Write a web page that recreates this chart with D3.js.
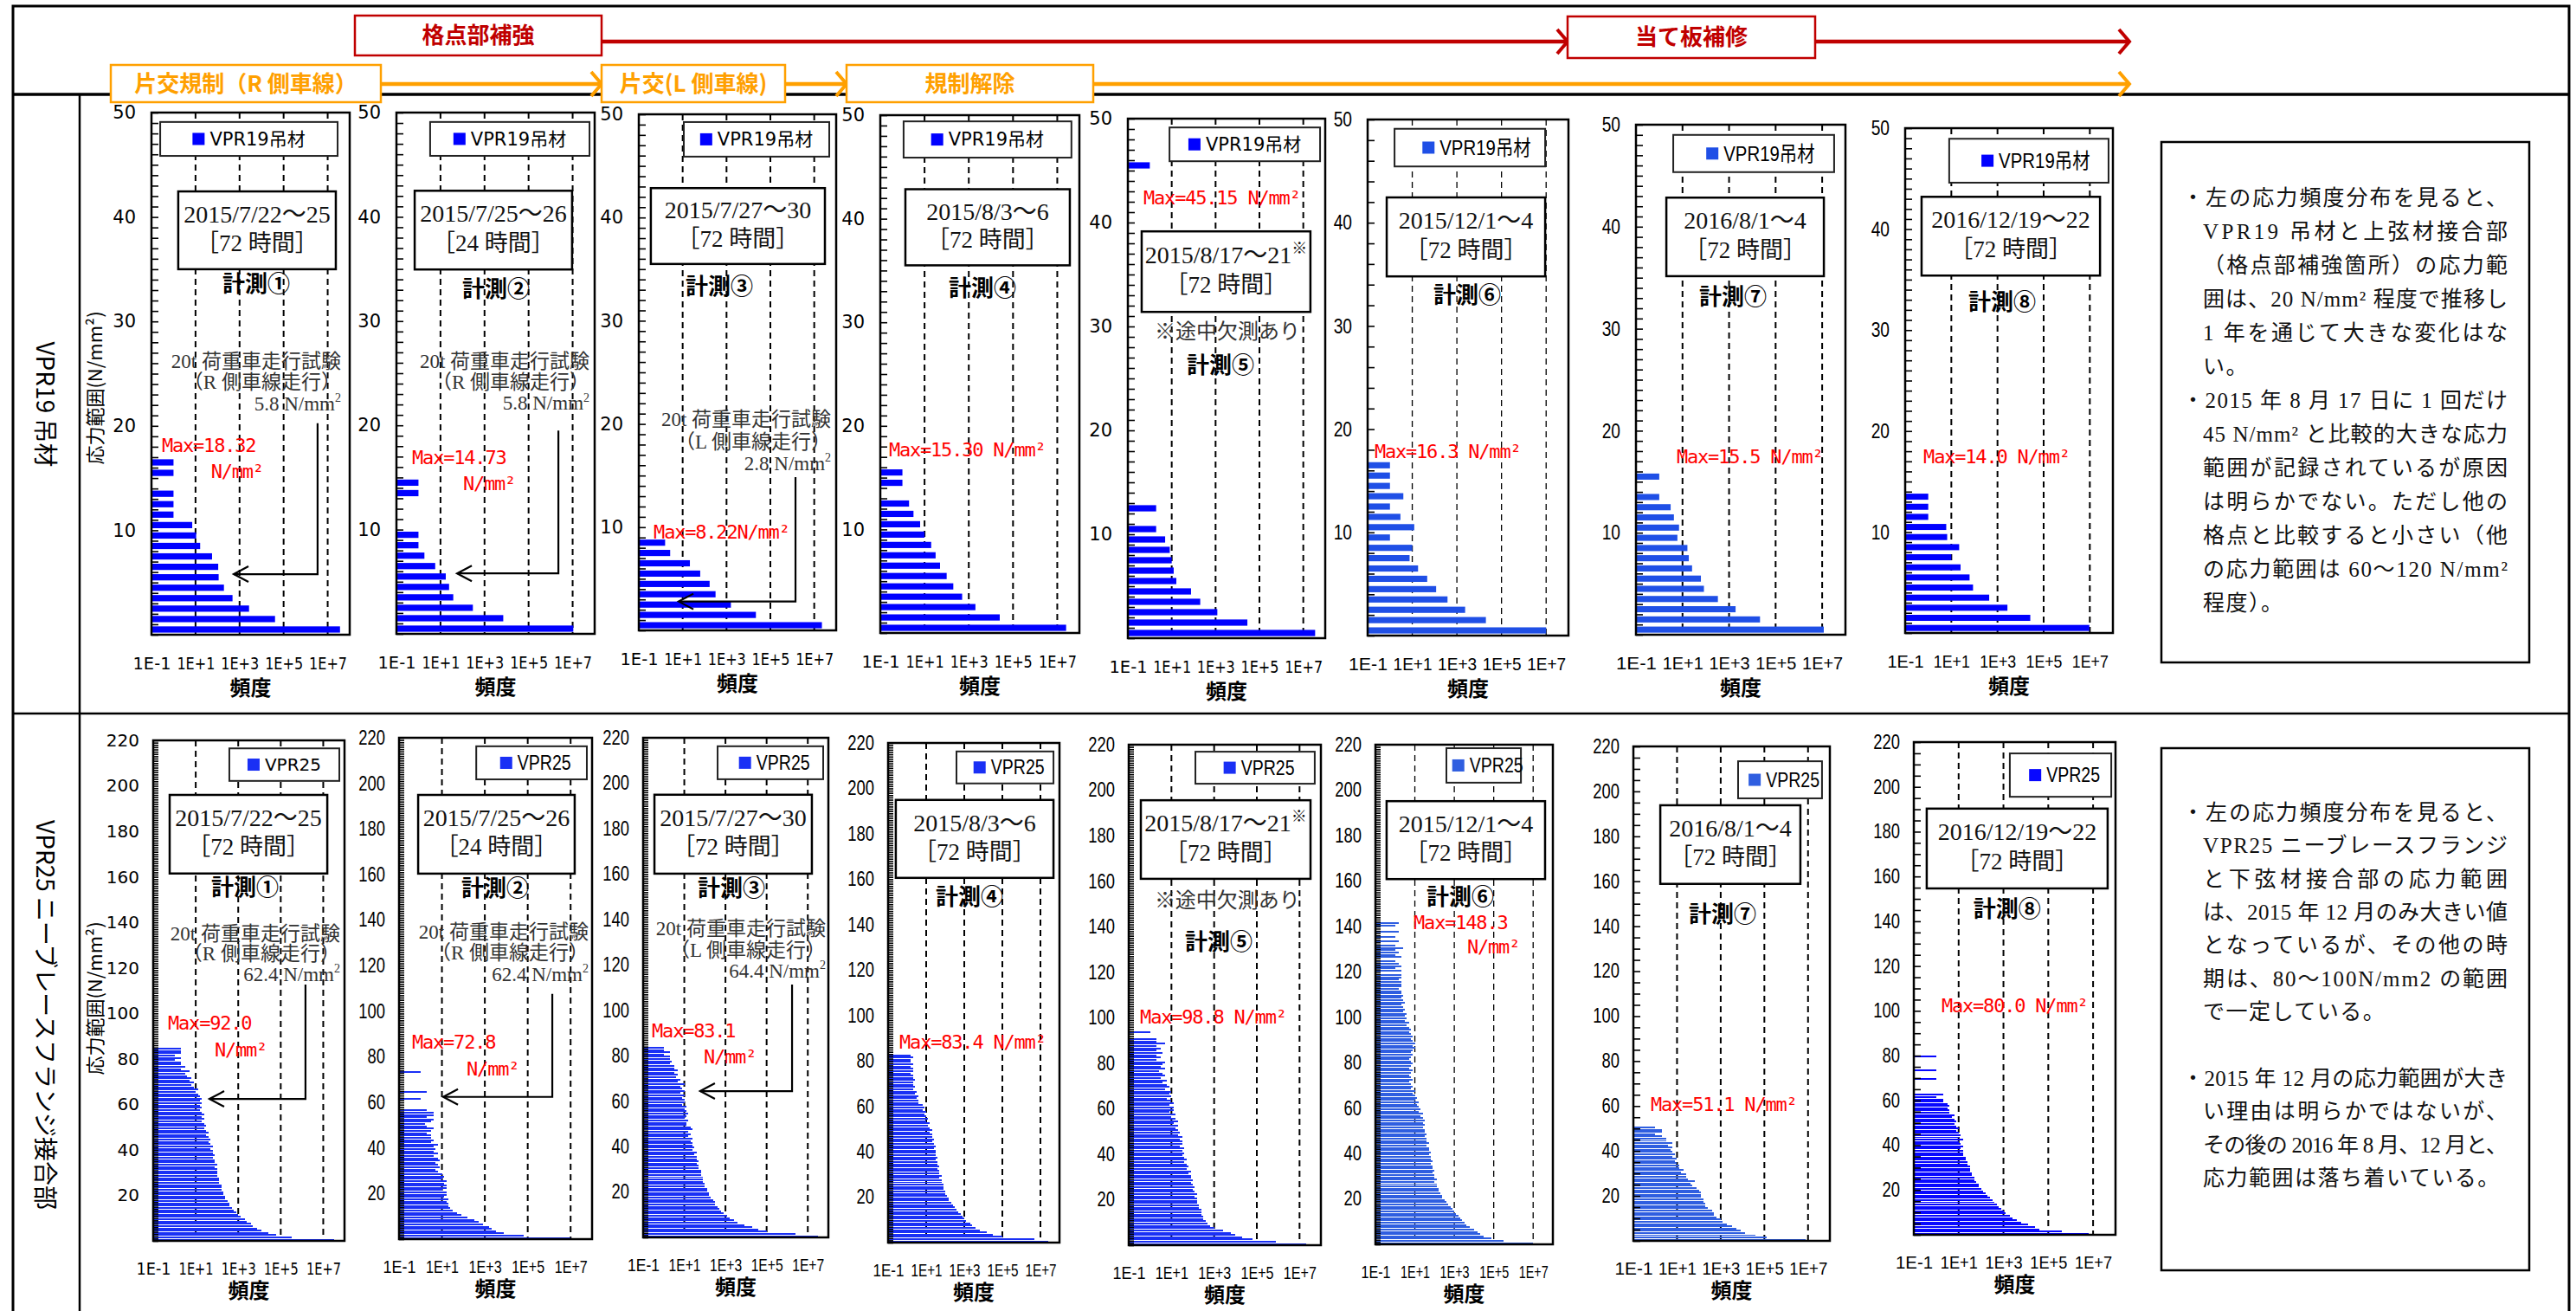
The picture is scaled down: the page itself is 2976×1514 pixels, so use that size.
<!DOCTYPE html>
<html lang="ja">
<head>
<meta charset="UTF-8"/>
<title>VPR19 / VPR25 応力頻度分布</title>
<script src="https://d3js.org/d3.v7.min.js"></script>
<style>
  body { margin: 0; background: #fff; }
</style>
</head>
<body>
<script>
// ---- data ----------------------------------------------------------
var xTickValues = [1e-1, 1e1, 1e3, 1e5, 1e7];
var xTickLabels = ["1E-1", "1E+1", "1E+3", "1E+5", "1E+7"];
var yTicksTop = [10, 20, 30, 40, 50];
var yTicksBottom = [20, 40, 60, 80, 100, 120, 140, 160, 180, 200, 220];

var periods = ["2015/7/22～25", "2015/7/25～26", "2015/7/27～30", "2015/8/3～6",
               "2015/8/17～21", "2015/12/1～4", "2016/8/1～4", "2016/12/19～22"];
var hours = ["72", "24", "72", "72", "72", "72", "72", "72"];
var measNo = ["①", "②", "③", "④", "⑤", "⑥", "⑦", "⑧"];
var maxTop = ["18.32", "14.73", "8.22", "15.30", "45.15", "16.3", "15.5", "14.0"];
var maxBottom = ["92.0", "72.8", "83.1", "83.4", "98.8", "148.3", "51.1", "80.0"];
var truckTop = ["5.8", "5.8", "2.8"];
var truckBottom = ["62.4", "62.4", "64.4"];
var truckLane = ["R", "R", "L"];

// log10(頻度) per 1 N/mm2 bin, from 0 upward (null = no count)
var vpr19_1 = [7.56, 4.61, 3.43, 2.68, 2.29, 2.05, 2.03, 1.75, 1.21, 1.03, 0.85, 0, 0, 0, null, 0, 0];
var vpr19_2 = [7.03, 3.85, 2.47, 1.58, 1.39, 1.24, 0.76, 0.27, 0, 0, null, null, null, 0, 0];
var vpr19_3 = [7.35, 4.34, 3.2, 2.5, 2.23, 1.8, 1.33, 0.43, 0.2];
var vpr19_4 = [7.4, 4.4, 3.3, 2.7, 2.3, 2.0, 1.7, 1.5, 1.3, 1.0, 0.8, 0.5, 0.3, null, 0, 0];
var vpr19_5 = [7.54, 4.45, 3.08, 2.30, 1.88, 1.21, 1.09, 1.0, 0.91, 0.70, 0.29, null, 0.29,
  null, null, null, null, null, null, null, null, null, null, null, null, null, null, null, null,
  null, null, null, null, null, null, null, null, null, null, null, null, null, null, null, null, 0];
var vpr19_6 = [7.0, 4.3, 3.37, 2.58, 2.07, 1.67, 1.26, 0.88, 1.0, 0, 1.09, 0.47, 0, 0.6, 0, 0, 0];
var vpr19_7 = [7.07, 4.33, 3.28, 2.52, 1.92, 1.79, 1.41, 1.27, 1.21, 0.78, 0.85, 0.63, 0.49, 0, null, 0];
var vpr19_8 = [6.98, 4.42, 3.43, 2.64, 1.94, 1.79, 1.4, 1.0, 1.34, 0.82, 0.78, 0, 0, 0];

var vpr25_1 = [7.5, 5.5, 4.8, 4.4, 4.1, 3.9, 3.7, 3.6, 3.4, 3.3, 3.1, 3.0, 2.9, 2.8, 2.7, 2.6, 2.6, 2.5,
  2.4, 2.4, 2.3, 2.3, 2.2, 2.2, 2.2, 2.1, 2.1, 2.1, 2.0, 2.0, 2.0, 2.0, 1.9, 2.0, 1.9, 1.9, 1.8, 1.9,
  1.8, 1.8, 1.7, 1.8, 1.7, 1.6, 1.7, 1.6, 1.5, 1.6, 1.5, 1.4, 1.5, 1.4, 1.3, 1.4, 1.3, 1.4, 1.3, 1.2,
  1.3, 1.2, 1.3, 1.2, 1.3, 1.2, 1.1, 1.0, 1.1, 0.9, 0.8, 0.9, 0.7, 0.8, 0.6, 0.5, 0.7, 0.3, 0.5, 0.3,
  0.3, 0.0, 0.3, 0.0, 0.3, 0.3, 0.3];
var vpr25_2 = [7.0, 4.8, 3.9, 3.5, 3.3, 3.2, 2.9, 2.7, 2.5, 2.2, 1.9, 1.7, 1.5, 1.4, 1.3, 1.3, 1.2, 1.3,
  1.1, 1.2, 1.2, 1.0, 1.2, 1.2, 1.1, 1.2, 1.0, 1.1, 1.0, 0.8, 0.7, 0.9, 0.8, 0.7, 0.9, 0.8, 0.6, 0.8,
  0.6, 0.7, 0.6, 0.8, 0.5, 0.6, 0.5, 0.5, 0.3, 0.5, 0.6, 0.3, 0.2, 0.5, 0.6, 0.3, 0.6, 0.6, 0.3, null,
  null, null, null, 0.0, null, null, 0.3, null, null, null, null, null, null, null, null, 0.0];
var vpr25_3 = [7.5, 6.4, 5.0, 4.6, 4.3, 3.9, 3.6, 3.4, 3.2, 3.1, 2.9, 2.8, 2.7, 2.6, 2.5, 2.5, 2.4, 2.3,
  2.2, 2.2, 2.1, 2.1, 2.0, 2.0, 1.9, 1.9, 1.9, 1.8, 1.8, 1.8, 1.7, 1.7, 1.6, 1.7, 1.6, 1.6, 1.5, 1.6,
  1.4, 1.5, 1.4, 1.4, 1.3, 1.4, 1.2, 1.3, 1.2, 1.4, 1.3, 1.1, 1.1, 1.2, 1.0, 1.1, 1.2, 1.1, 1.0, 1.1,
  0.9, 1.0, 1.0, 0.9, 1.0, 0.8, 1.0, 0.9, 0.8, 1.0, 0.7, 0.8, 0.6, 0.7, 0.5, 0.7, 0.5, 0.5, 0.3, 0.4,
  0.3, 0.3, 0.0, 0.3, 0.0, 0.0];
var vpr25_4 = [7.4, 6.7, 5.0, 4.5, 4.2, 3.8, 3.6, 3.4, 3.3, 3.1, 3.0, 2.9, 2.8, 2.7, 2.6, 2.5, 2.4, 2.3,
  2.2, 2.2, 2.1, 2.0, 2.0, 1.9, 1.9, 1.9, 1.8, 1.8, 1.7, 1.8, 1.7, 1.7, 1.6, 1.7, 1.6, 1.6, 1.5, 1.6,
  1.5, 1.5, 1.5, 1.4, 1.5, 1.4, 1.3, 1.4, 1.3, 1.3, 1.2, 1.3, 1.2, 1.1, 1.2, 1.0, 1.1, 1.0, 0.9, 1.0,
  0.8, 0.9, 0.8, 0.6, 0.6, 0.5, 0.6, 0.4, 0.5, 0.3, 0.4, 0.3, 0.3, 0.4, 0.3, 0.3, 0.2, 0.3, 0.3, 0.2,
  0.3, 0.2, 0.2, 0.3, 0.2];
var vpr25_5 = [7.3, 5.9, 4.8, 4.3, 4.0, 3.8, 3.4, 3.0, 2.8, 2.7, 2.6, 2.5, 2.5, 2.4, 2.4, 2.4, 2.3, 2.3,
  2.2, 2.2, 2.2, 2.1, 2.2, 2.1, 2.0, 2.1, 2.0, 1.9, 2.0, 1.9, 1.9, 1.8, 1.9, 1.7, 1.8, 1.7, 1.6, 1.7,
  1.6, 1.5, 1.6, 1.5, 1.6, 1.4, 1.5, 1.5, 1.4, 1.5, 1.3, 1.4, 1.3, 1.2, 1.3, 1.1, 1.3, 1.2, 1.0, 1.2,
  0.9, 1.1, 1.1, 0.9, 1.1, 1.0, 0.8, 1.0, 0.9, 1.0, 0.7, 0.9, 0.8, 0.6, 0.8, 0.5, 0.7, 0.6, 0.4, 0.7,
  0.5, 0.6, 0.7, 0.3, 0.5, 0.3, 0.6, 0.3, 0.5, 0.3, 0.7, 0.3, 0.3, null, null, 0.0];
var vpr25_6 = [7.0, 5.5, 4.9, 4.5, 4.3, 4.2, 4.0, 3.8, 3.6, 3.5, 3.4, 3.3, 3.2, 3.1, 3.0, 2.9, 2.8, 2.7,
  2.6, 2.5, 2.4, 2.4, 2.3, 2.2, 2.2, 2.1, 2.1, 2.0, 2.1, 2.0, 2.0, 1.9, 2.0, 1.9, 1.9, 1.8, 1.9, 1.8,
  1.8, 1.7, 1.8, 1.7, 1.7, 1.6, 1.7, 1.6, 1.6, 1.5, 1.6, 1.5, 1.5, 1.4, 1.5, 1.4, 1.5, 1.4, 1.3, 1.4,
  1.2, 1.3, 1.2, 1.1, 1.2, 1.0, 1.1, 1.0, 0.9, 1.0, 0.8, 0.9, 0.8, 0.7, 0.9, 0.8, 0.7, 0.8, 0.9, 0.7,
  0.8, 0.9, 0.8, 0.7, 0.8, 0.9, 0.8, 0.9, 1.0, 0.9, 1.0, 0.9, 0.8, 0.9, 0.8, 0.7, 0.8, 0.7, 0.6, 0.7,
  0.5, 0.6, 0.5, 0.6, 0.4, 0.5, 0.4, 0.3, 0.5, 0.4, 0.3, 0.4, 0.3, 0.3, 0.2, 0.3, 0.3, 0.3, 0.2, 0.3,
  0.3, null, 0.3, 0.0, 0.3, 0.2, 0.0, null, 0.3, 0.0, 0.2, 0.0, 0.4, 0.0, null, 0.2, null, 0.0, null,
  0.2, null, null, 0.0, 0.2];
var vpr25_7 = [6.9, 5.1, 4.6, 4.1, 3.9, 3.7, 3.5, 3.3, 3.1, 3.0, 2.8, 2.7, 2.7, 2.6, 2.4, 2.3, 2.3, 2.2,
  2.2, 2.1, 2.1, 2.1, 2.0, 1.9, 1.7, 1.6, 1.8, 1.5, 1.4, 1.4, 1.2, 1.3, 1.1, 1.1, 1.0, 0.9, 1.0, 0.8,
  0.9, 0.8, 0.7, 0.8, 0.6, 0.8, 0.5, 0.5, 0.3, 0.0, 0.3, 0.3, 0.0];
var vpr25_8 = [6.8, 5.6, 4.6, 4.4, 4.1, 3.8, 3.6, 3.4, 3.3, 3.1, 3.0, 2.9, 2.8, 2.7, 2.6, 2.5, 2.4, 2.3,
  2.2, 2.1, 2.0, 1.9, 1.9, 1.8, 1.7, 1.7, 1.6, 1.6, 1.5, 1.5, 1.5, 1.4, 1.4, 1.3, 1.3, 1.2, 1.2, 1.2,
  1.1, 1.2, 1.1, 1.0, 1.2, 1.0, 1.1, 1.0, 0.9, 1.0, 0.9, 0.8, 0.9, 0.8, 0.7, 0.8, 0.6, 0.6, 0.5, 0.6,
  0.5, 0.3, 0.3, 0.0, 0.3, null, null, null, null, null, null, 0.0, null, null, null, 0.0, null, null,
  null, null, null, 0.0];

var noteVPR19 = [
  ["・左の応力頻度分布を見ると、", 1], ["VPR19 吊材と上弦材接合部", 1], ["（格点部補強箇所）の応力範", 1],
  ["囲は、20 N/mm² 程度で推移し", 1], ["1 年を通じて大きな変化はな", 1], ["い。", 0],
  ["・2015 年 8 月 17 日に 1 回だけ", 1], ["45 N/mm² と比較的大きな応力", 1], ["範囲が記録されているが原因", 1],
  ["は明らかでない。ただし他の", 1], ["格点と比較すると小さい（他", 1], ["の応力範囲は 60～120 N/mm²", 1],
  ["程度）。", 0]
];
var noteVPR25 = [
  ["・左の応力頻度分布を見ると、", 1], ["VPR25 ニーブレースフランジ", 1], ["と下弦材接合部の応力範囲", 1],
  ["は、2015 年 12 月のみ大きい値", 1], ["となっているが、その他の時", 1], ["期は、80～100N/mm2 の範囲", 1],
  ["で一定している。", 0], ["", 0],
  ["・2015 年 12 月の応力範囲が大き", 1], ["い理由は明らかではないが、", 1], ["その後の 2016 年 8 月、12 月と、", 1],
  ["応力範囲は落ち着いている。", 0]
];

// ---- layout --------------------------------------------------------
var W = 2976, H = 1514;
var jp = "'Noto Sans CJK JP', sans-serif";
var serif = "'Liberation Serif', 'Noto Sans CJK JP', serif";
var wide = "'DejaVu Sans', 'Noto Sans CJK JP', sans-serif";
var narrow = "'Liberation Sans', 'Noto Sans CJK JP', sans-serif";
var mono = "'DejaVu Sans Mono', monospace";

var topLayout = [
  {box: [175, 130, 404, 733], leg: [0.044, 0.018, 0.939, 0.083], date: [0.135, 0.151, 0.930, 0.300], meas: [0.528, 0.328], max: [0.052, 0.637, 0.30, 0.687], note: [0.956, 0.476, 0.516, 0.557], arrow: [0.838, 0.595, 0.415], minor: 1, xl: 44},
  {box: [458, 130, 687, 732], leg: [0.170, 0.018, 0.974, 0.083], date: [0.092, 0.150, 0.886, 0.301], meas: [0.502, 0.339], max: [0.079, 0.661, 0.336, 0.711], note: [0.974, 0.477, 0.516, 0.557], arrow: [0.817, 0.610, 0.306], minor: 1, xl: 44},
  {box: [738, 132, 966, 728], leg: [0.228, 0.015, 0.965, 0.082], date: [0.061, 0.143, 0.943, 0.290], meas: [0.408, 0.334], max: [0.075, 0.809], maxSep: "", note: [0.974, 0.590, 0.634, 0.676], arrow: [0.794, 0.703, 0.202], minor: 1, xl: 44},
  {box: [1017, 133, 1247, 731], leg: [0.117, 0.012, 0.960, 0.082], date: [0.126, 0.143, 0.952, 0.290], meas: [0.513, 0.334], max: [0.043, 0.646], minor: 1, xl: 44},
  {box: [1303, 137, 1531, 737], leg: [0.211, 0.017, 0.974, 0.082], date: [0.070, 0.217, 0.925, 0.372], meas: [0.469, 0.475], max: [0.079, 0.152], susp: [0.504, 0.410], minor: 1, xl: 44},
  {box: [1580, 138, 1812, 734], leg: [0.134, 0.018, 0.884, 0.091], date: [0.095, 0.151, 0.884, 0.304], meas: [0.496, 0.341], max: [0.034, 0.643], minor: 2, cond: true, thin: true, xl: 45},
  {box: [1890, 144, 2132, 733], leg: [0.178, 0.020, 0.946, 0.093], date: [0.145, 0.143, 0.897, 0.297], meas: [0.463, 0.338], max: [0.194, 0.650], minor: 1, cond: true, xl: 47},
  {box: [2201, 148, 2441, 731], leg: [0.212, 0.021, 0.979, 0.108], date: [0.079, 0.136, 0.938, 0.292], meas: [0.467, 0.345], max: [0.088, 0.650], minor: 1, cond: true, xl: 42}
];
var bottomLayout = [
  {box: [177, 855, 398, 1433], leg: [0.398, 0.016, 0.973, 0.081], date: [0.086, 0.109, 0.910, 0.266], meas: [0.480, 0.294], max: [0.077, 0.564, 0.321, 0.618], note: [0.977, 0.386, 0.426, 0.467], arrow: [0.796, 0.488, 0.294], minor: 1, xl: 40},
  {box: [461, 852, 684, 1431], leg: [0.400, 0.017, 0.973, 0.083], date: [0.099, 0.114, 0.910, 0.271], meas: [0.498, 0.300], max: [0.067, 0.606, 0.350, 0.660], note: [0.982, 0.387, 0.428, 0.471], arrow: [0.794, 0.511, 0.229], minor: 1, cond: true, xl: 38},
  {box: [743, 852, 957, 1429], leg: [0.402, 0.017, 0.972, 0.083], date: [0.061, 0.114, 0.911, 0.272], meas: [0.477, 0.302], max: [0.047, 0.586, 0.327, 0.638], note: [0.986, 0.381, 0.425, 0.466], arrow: [0.804, 0.494, 0.308], minor: 1, cond: true, xl: 37},
  {box: [1026, 858, 1224, 1435], leg: [0.399, 0.017, 0.965, 0.081], date: [0.045, 0.114, 0.965, 0.270], meas: [0.475, 0.308], max: [0.066, 0.598], minor: 1, cond: true, xl: 36},
  {box: [1304, 860, 1526, 1438], leg: [0.347, 0.014, 0.968, 0.078], date: [0.063, 0.111, 0.946, 0.268], meas: [0.468, 0.394], max: [0.059, 0.543], susp: [0.513, 0.311], minor: 1, cond: true, xl: 38},
  {box: [1589, 860, 1794, 1437], leg: [0.400, 0.007, 0.820, 0.076], date: [0.063, 0.113, 0.956, 0.269], meas: [0.478, 0.305], max: [0.215, 0.355, 0.517, 0.405], minor: 1, cond: true, thin: true, xl: 34},
  {box: [1887, 862, 2114, 1433], leg: [0.533, 0.030, 0.960, 0.105], date: [0.137, 0.119, 0.850, 0.278], meas: [0.454, 0.340], max: [0.088, 0.723], minor: 5, cond: true, xl: 44},
  {box: [2211, 857, 2444, 1426], leg: [0.476, 0.023, 0.979, 0.111], date: [0.064, 0.135, 0.961, 0.297], meas: [0.463, 0.339], max: [0.137, 0.534], minor: 5, cond: true, xl: 43}
];
var topColors = ["#0000ff", "#0000ff", "#0000ff", "#0000ff", "#0000ff", "#1f4fe6", "#1f4fe6", "#0000ff"];
var bottomColors = ["#1a30f5", "#1a30f5", "#1a30f5", "#1a30f5", "#1a30f5", "#2f5ee0", "#2f5ee0", "#0808ff"];

var svg = d3.select("body").append("svg").attr("width", W).attr("height", H)
  .style("display", "block").style("background", "#fff");

// squeeze text horizontally (condensed look)
function squeeze(sel, k) {
  sel.each(function () {
    var len = this.getComputedTextLength();
    d3.select(this).attr("textLength", len * k).attr("lengthAdjust", "spacingAndGlyphs");
  });
}

// ---- frame and header ------------------------------------------------
var frame = svg.append("g").attr("stroke", "#000").attr("fill", "none");
frame.append("rect").attr("x", 15).attr("y", 7).attr("width", 2953).attr("height", 1520).attr("stroke-width", 3);
frame.append("line").attr("x1", 15).attr("x2", 2968).attr("y1", 109).attr("y2", 109).attr("stroke-width", 3.5);
frame.append("line").attr("x1", 15).attr("x2", 2968).attr("y1", 824).attr("y2", 824).attr("stroke-width", 2.5);
frame.append("line").attr("x1", 92).attr("x2", 92).attr("y1", 109).attr("y2", H).attr("stroke-width", 2.5);

function chevron(x, y, color) {
  svg.append("path").attr("d", "M" + (x - 12) + "," + (y - 14) + "L" + x + "," + y + "L" + (x - 12) + "," + (y + 14))
    .attr("fill", "none").attr("stroke", color).attr("stroke-width", 4);
}
function hline(xa, xb, y, color) {
  svg.append("line").attr("x1", xa).attr("x2", xb).attr("y1", y).attr("y2", y).attr("stroke", color).attr("stroke-width", 4.5);
}
function labelBox(x0, y0, x1, y1, txt, color) {
  svg.append("rect").attr("x", x0).attr("y", y0).attr("width", x1 - x0).attr("height", y1 - y0)
    .attr("fill", "#fff").attr("stroke", color).attr("stroke-width", 2.5);
  svg.append("text").attr("x", (x0 + x1) / 2).attr("y", (y0 + y1) / 2).attr("dy", "0.35em")
    .attr("text-anchor", "middle").attr("font-family", jp).attr("font-weight", "bold")
    .attr("font-size", 26).attr("fill", color).text(txt);
}
var red = "#c00000", orange = "#ffa000";
hline(695, 1809, 48, red); chevron(1811, 48, red);
hline(2097, 2458, 48, red); chevron(2460, 48, red);
labelBox(410, 18, 695, 64, "格点部補強", red);
labelBox(1811, 19, 2097, 67, "当て板補修", red);
hline(440, 693, 97, orange); chevron(695, 97, orange);
hline(907, 976, 97, orange); chevron(978, 97, orange);
hline(1263, 2458, 97, orange); chevron(2460, 97, orange);
labelBox(128, 75, 440, 118, "片交規制（R 側車線）", orange);
labelBox(695, 75, 907, 118, "片交(L 側車線)", orange);
labelBox(978, 75, 1263, 118, "規制解除", orange);

// row labels (rotated) and stress-axis titles
function rotText(x, y, txt, size, angle) {
  svg.append("text").attr("transform", "translate(" + x + "," + y + ") rotate(" + angle + ")")
    .attr("text-anchor", "middle").attr("dy", "0.35em").attr("font-family", jp)
    .attr("font-size", size).attr("fill", "#000").text(txt);
}
rotText(52, 467, "VPR19 吊材", 28, 90);
rotText(52, 1172, "VPR25 ニーブレースフランジ接合部", 28, 90);
rotText(110, 448, "応力範囲(N/mm²)", 22, -90);
rotText(110, 1153, "応力範囲(N/mm²)", 22, -90);

// ---- one histogram panel ---------------------------------------------
function drawPanel(L, freq, o) {
  var x0 = L.box[0], y0 = L.box[1], x1 = L.box[2], y1 = L.box[3];
  var pw = x1 - x0, ph = y1 - y0;
  var px = function (f) { return x0 + f * pw; };
  var py = function (f) { return y0 + f * ph; };
  var x = d3.scaleLog().domain([0.1, 1e8]).range([x0, x1]);
  var y = d3.scaleLinear().domain([0, o.yMax]).range([y1, y0]);
  var sans = L.cond ? narrow : wide;
  var g = svg.append("g");

  // dashed grid at 1E+1 .. 1E+7
  g.append("g").selectAll("line").data(xTickValues.slice(1)).join("line")
    .attr("x1", function (d) { return x(d); }).attr("x2", function (d) { return x(d); })
    .attr("y1", y0).attr("y2", y1)
    .attr("stroke", "#000").attr("stroke-width", L.thin ? 1.3 : 2).attr("stroke-dasharray", "7,5");

  // bars
  var bins = freq.map(function (v, k) { return {k: k, v: v}; })
    .filter(function (d) { return d.v !== null; });
  g.append("g").attr("shape-rendering", o.crisp ? "crispEdges" : "auto")
    .selectAll("rect").data(bins).join("rect")
    .attr("x", x(0.1))
    .attr("y", function (d) { return y(d.k + 1 - o.pad); })
    .attr("width", function (d) { return x(Math.pow(10, d.v)) - x(0.1); })
    .attr("height", function (d) { return y(d.k + o.pad) - y(d.k + 1 - o.pad); })
    .attr("fill", o.color);

  // inner ticks on stress axis
  var minor = g.append("g").attr("transform", "translate(" + x0 + ",0)")
    .call(d3.axisRight(y).tickValues(d3.range(0, o.yMax + 0.01, L.minor)).tickSize(o.tick).tickFormat(""));
  minor.select(".domain").remove();
  minor.selectAll("line").attr("stroke", "#000").attr("stroke-width", 1.6);

  var ya = g.append("g").attr("transform", "translate(" + x0 + ",0)")
    .call(d3.axisLeft(y).tickValues(o.yTicks).tickSize(0).tickPadding(o.ypad));
  ya.select(".domain").remove();
  ya.selectAll("text").attr("font-family", sans).attr("font-size", o.fs).attr("fill", "#000");
  if (L.cond) squeeze(ya.selectAll("text"), 0.8);

  var xa = g.append("g").attr("transform", "translate(0," + y1 + ")")
    .call(d3.axisBottom(x).tickValues(xTickValues)
      .tickFormat(function (d, i) { return xTickLabels[i]; })
      .tickSize(0).tickPadding(o.xoff - 0.36 * o.xfs));
  xa.select(".domain").remove();
  xa.selectAll("text").attr("font-family", sans).attr("font-size", o.xfs).attr("fill", "#000")
    .attr("textLength", L.xl).attr("lengthAdjust", "spacingAndGlyphs");

  g.append("text").attr("x", x0 + pw / 2).attr("y", y1 + o.titleOff).attr("dy", "0.35em")
    .attr("text-anchor", "middle").attr("font-family", jp).attr("font-weight", "bold")
    .attr("font-size", 24).text("頻度");

  g.append("rect").attr("x", x0).attr("y", y0).attr("width", pw).attr("height", ph)
    .attr("fill", "none").attr("stroke", "#000").attr("stroke-width", 2.5);

  // legend
  var lx0 = px(L.leg[0]), ly0 = py(L.leg[1]), lx1 = px(L.leg[2]), ly1 = py(L.leg[3]);
  g.append("rect").attr("x", lx0).attr("y", ly0).attr("width", lx1 - lx0).attr("height", ly1 - ly0)
    .attr("fill", "#fff").attr("stroke", "#222").attr("stroke-width", 2);
  var lt = g.append("text").attr("y", (ly0 + ly1) / 2).attr("dy", "0.35em")
    .attr("font-family", sans).attr("font-size", o.legFs).attr("fill", "#000").text(o.legend);
  if (L.cond) squeeze(lt, 0.85);
  var tw = L.cond ? lt.node().getComputedTextLength() * 0.85 : lt.node().getComputedTextLength();
  var sq = 14, start = (lx0 + lx1) / 2 - (sq + 6 + tw) / 2;
  g.append("rect").attr("x", start).attr("y", (ly0 + ly1) / 2 - sq / 2).attr("width", sq).attr("height", sq)
    .attr("fill", o.color);
  lt.attr("x", start + sq + 6);

  // period box
  var dx0 = px(L.date[0]), dy0 = py(L.date[1]), dx1 = px(L.date[2]), dy1 = py(L.date[3]);
  g.append("rect").attr("x", dx0).attr("y", dy0).attr("width", dx1 - dx0).attr("height", dy1 - dy0)
    .attr("fill", "#fff").attr("stroke", "#000").attr("stroke-width", 2.5);
  var dt = g.append("text").attr("x", (dx0 + dx1) / 2).attr("y", dy0 + 0.29 * (dy1 - dy0)).attr("dy", "0.35em")
    .attr("text-anchor", "middle").attr("font-family", serif).attr("font-size", 28).attr("fill", "#111")
    .text(periods[o.i]);
  if (L.susp) dt.append("tspan").attr("font-size", 18).attr("dy", "-0.6em").text("※");
  g.append("text").attr("x", (dx0 + dx1) / 2).attr("y", dy0 + 0.66 * (dy1 - dy0)).attr("dy", "0.35em")
    .attr("text-anchor", "middle").attr("font-family", serif).attr("font-size", 27).attr("fill", "#111")
    .text("［" + hours[o.i] + " 時間］");

  if (L.susp) {
    g.append("text").attr("x", px(L.susp[0])).attr("y", py(L.susp[1])).attr("dy", "0.35em")
      .attr("text-anchor", "middle").attr("font-family", serif).attr("font-size", 24).attr("fill", "#333")
      .text("※途中欠測あり");
  }

  g.append("text").attr("x", px(L.meas[0])).attr("y", py(L.meas[1])).attr("dy", "0.35em")
    .attr("text-anchor", "middle").attr("font-family", jp).attr("font-weight", "bold")
    .attr("font-size", 26).attr("fill", "#000").text("計測" + measNo[o.i]);

  // truck test note + arrow
  if (L.note) {
    var nx = px(L.note[0]);
    var lines = ["20t 荷重車走行試験", "（" + truckLane[o.i] + " 側車線走行）", o.truck[o.i] + " N/mm"];
    lines.forEach(function (t, j) {
      var tx = g.append("text").attr("x", nx).attr("y", py(L.note[j + 1])).attr("dy", "0.35em")
        .attr("text-anchor", "end").attr("font-family", serif).attr("font-size", 23).attr("fill", "#333").text(t);
      if (j === 2) tx.append("tspan").attr("font-size", 14).attr("dy", "-0.7em").text("2");
    });
    var ay = y(parseFloat(o.truck[o.i]));
    var vx = px(L.arrow[0]), tip = px(L.arrow[2]);
    g.append("path").attr("d", "M" + vx + "," + py(L.arrow[1]) + "L" + vx + "," + ay + "L" + tip + "," + ay)
      .attr("fill", "none").attr("stroke", "#000").attr("stroke-width", 2.2);
    g.append("path").attr("d", "M" + (tip + 17) + "," + (ay - 9) + "L" + tip + "," + ay + "L" + (tip + 17) + "," + (ay + 9))
      .attr("fill", "none").attr("stroke", "#000").attr("stroke-width", 2.2);
  }

  // max label
  var mtxt = "Max=" + o.maxv[o.i];
  var mt = g.append("text").attr("x", px(L.max[0])).attr("y", py(L.max[1])).attr("dy", "0.35em")
    .attr("font-family", mono).attr("font-size", 22).attr("letter-spacing", -1.2).attr("fill", "#ff0000");
  if (L.max.length > 2) {
    mt.text(mtxt);
    g.append("text").attr("x", px(L.max[2])).attr("y", py(L.max[3])).attr("dy", "0.35em")
      .attr("font-family", mono).attr("font-size", 22).attr("letter-spacing", -1.2).attr("fill", "#ff0000")
      .text("N/mm²");
  } else {
    mt.text(mtxt + (L.maxSep !== undefined ? L.maxSep : " ") + "N/mm²");
  }
}

var topData = [vpr19_1, vpr19_2, vpr19_3, vpr19_4, vpr19_5, vpr19_6, vpr19_7, vpr19_8];
var bottomData = [vpr25_1, vpr25_2, vpr25_3, vpr25_4, vpr25_5, vpr25_6, vpr25_7, vpr25_8];

topLayout.forEach(function (L, i) {
  drawPanel(L, topData[i], {i: i, yMax: 50, yTicks: yTicksTop, pad: 0.2, tick: 8, color: topColors[i],
    fs: L.cond ? 24 : 21, xfs: L.cond ? 21 : 19, legFs: L.cond ? 24 : 21, ypad: 18, xoff: 33, titleOff: 62,
    crisp: false, legend: "VPR19吊材", maxv: maxTop, truck: truckTop});
});
bottomLayout.forEach(function (L, i) {
  drawPanel(L, bottomData[i], {i: i, yMax: 220, yTicks: yTicksBottom, pad: 0.12, tick: L.minor > 1 ? 8 : 6,
    color: bottomColors[i], fs: L.cond ? 23 : 20, xfs: L.cond ? 21 : 19, legFs: L.cond ? 23 : 20, ypad: 16,
    xoff: 32, titleOff: 58, crisp: true, legend: "VPR25", maxv: maxBottom, truck: truckBottom});
});

// ---- comment boxes ---------------------------------------------------
function noteBox(y0, y1, lines, firstY, step) {
  svg.append("rect").attr("x", 2497).attr("y", y0).attr("width", 425).attr("height", y1 - y0)
    .attr("fill", "#fff").attr("stroke", "#000").attr("stroke-width", 2.5);
  lines.forEach(function (ln, j) {
    if (!ln[0]) return;
    var bullet = ln[0].charAt(0) === "・";
    var xs = bullet ? 2521 : 2545;
    var t = svg.append("text").attr("x", xs).attr("y", firstY + j * step).attr("dy", "0.35em")
      .attr("font-family", serif).attr("font-size", 25).attr("fill", "#111").text(ln[0]);
    if (ln[1]) t.attr("textLength", 2897 - xs).attr("lengthAdjust", "spacing");
    else t.attr("letter-spacing", 1.5);
  });
}
noteBox(164, 765, noteVPR19, 228, 39);
noteBox(864, 1467, noteVPR25, 938, 38.4);
</script>
</body>
</html>
